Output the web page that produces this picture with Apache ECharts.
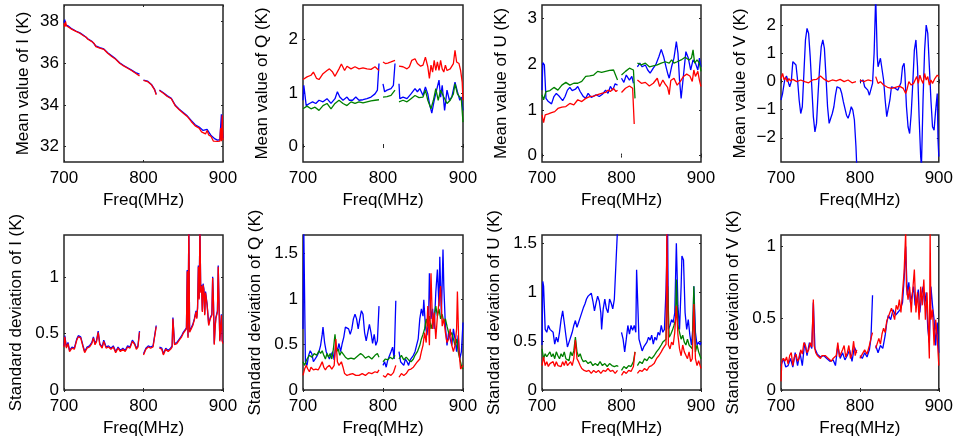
<!DOCTYPE html>
<html><head><meta charset="utf-8">
<script src="https://cdn.jsdelivr.net/npm/echarts/dist/echarts.min.js"></script>
<style>html,body{margin:0;padding:0;background:#fff}#c{width:956px;height:438px}</style>
</head><body><div id="c"></div>
<script>
// ---- tick labels ----
const freqTicks = [700, 800, 900];
const meanITicks = [32, 34, 36, 38];
const meanQTicks = [0, 1, 2];
const meanUTicks = [0, 1, 2, 3];
const meanVTicks = [-2, -1, 0, 1, 2];
const stdITicks = [0, 0.5, 1];
const stdQTicks = [0, 0.5, 1, 1.5];
const stdUTicks = [0, 0.5, 1, 1.5];
const stdVTicks = [0, 0.5, 1];

// ---- Mean I ----
const meanIBlue = [[700,37.95],[701,38.1],[702,37.85],[705,37.8],[710,37.65],[715,37.55],[720,37.46],[725,37.33],[730,37.18],[735,37.06],[740,36.83],[745,36.75],[750,36.69],[755,36.5],[760,36.36],[765,36.21],[770,36.02],[775,35.89],[780,35.78],[785,35.67],[790,35.55],[795,35.48],[797,null],[800,35.19],[805,35.14],[810,34.98],[814,34.74],[816,34.52],[818,null],[820,34.71],[825,34.58],[830,34.43],[835,34.31],[840,33.98],[845,33.79],[850,33.63],[855,33.47],[860,33.25],[865,33.04],[870,32.93],[875,32.77],[880,32.82],[885,32.52],[890,32.36],[893,32.3],[896,32.32],[898,33.55],[899,32.9],[900,32.4]];
const meanIRed = [[700,37.92],[701,37.75],[702,38.0],[703,37.8],[705,37.78],[710,37.63],[715,37.53],[720,37.44],[725,37.31],[728,37.25],[730,37.15],[735,37.04],[738,36.95],[740,36.8],[745,36.73],[750,36.67],[755,36.48],[760,36.32],[765,36.19],[770,36.0],[775,35.87],[780,35.76],[785,35.65],[790,35.52],[795,35.39],[797,null],[800,35.17],[805,35.12],[810,34.96],[814,34.72],[816,34.48],[818,null],[820,34.69],[825,34.56],[830,34.4],[835,34.29],[840,33.95],[845,33.76],[850,33.6],[855,33.44],[860,33.2],[865,32.99],[870,32.88],[873,32.7],[875,32.72],[878,32.6],[880,32.77],[882,32.55],[885,32.48],[888,32.25],[890,32.32],[893,32.24],[895,32.3],[896,32.25],[897,32.88],[898,32.25],[899,33.5],[900,32.3]];

// ---- Mean Q ----
const meanQBlue = [[700,0.86],[701,1.14],[702,1.02],[704,0.76],[708,0.80],[712,0.83],[716,0.80],[720,0.86],[725,0.83],[730,0.89],[735,0.80],[740,0.89],[743,1.02],[746,0.92],[750,0.86],[755,0.92],[758,0.86],[762,0.86],[766,0.92],[770,0.86],[775,0.87],[780,0.89],[785,0.92],[790,0.98],[793,1.05],[795,1.55],[797,null],[800,1.17],[802,1.02],[805,1.05],[810,1.08],[813,1.14],[815,1.55],[817,null],[820,1.17],[821,0.89],[825,0.92],[830,0.89],[835,0.98],[840,1.08],[843,1.02],[846,1.08],[850,0.95],[853,1.11],[856,0.98],[858,0.80],[861,0.62],[864,0.86],[867,1.05],[870,1.24],[872,0.92],[874,1.14],[877,0.67],[880,1.05],[883,0.86],[886,0.92],[890,1.20],[893,1.02],[896,0.86],[898,0.92],[900,0.67]];
const meanQGreen = [[700,0.70],[705,0.75],[710,0.70],[715,0.73],[720,0.67],[725,0.76],[730,0.80],[735,0.70],[740,0.80],[745,0.86],[750,0.80],[755,0.76],[760,0.83],[765,0.80],[770,0.83],[775,0.81],[780,0.83],[785,0.85],[790,0.86],[795,0.87],[797,null],[800,0.92],[805,0.93],[810,0.95],[815,1.05],[817,null],[820,0.83],[825,0.86],[830,0.83],[835,0.89],[840,0.95],[845,0.91],[850,0.92],[853,1.05],[856,0.86],[860,0.70],[863,0.86],[866,1.08],[869,0.86],[872,1.05],[876,0.92],[880,0.80],[884,0.86],[888,0.98],[890,1.17],[893,0.98],[896,0.92],[898,0.86],[900,0.45]];
const meanQRed = [[700,1.25],[705,1.30],[710,1.33],[713,1.39],[717,1.27],[720,1.25],[725,1.36],[730,1.42],[733,1.45],[737,1.39],[740,1.31],[745,1.45],[748,1.54],[752,1.42],[755,1.50],[760,1.45],[765,1.49],[770,1.45],[775,1.47],[780,1.45],[785,1.44],[790,1.49],[795,1.42],[797,null],[800,1.58],[803,1.55],[806,1.56],[810,1.58],[815,1.61],[817,null],[820,1.50],[825,1.49],[830,1.45],[833,1.49],[836,1.61],[840,1.64],[843,1.55],[847,1.50],[850,1.52],[853,1.67],[856,1.49],[858,1.27],[860,1.52],[862,1.39],[864,1.61],[866,1.42],[868,1.58],[870,1.42],[872,1.61],[874,1.45],[876,1.39],[878,1.52],[880,1.42],[884,1.45],[888,1.55],[890,1.80],[892,1.58],[895,1.55],[897,1.42],[899,1.20],[900,0.86]];

// ---- Mean U ----
const meanUBlue = [[700,1.43],[701,2.03],[703,1.98],[705,1.25],[708,1.18],[712,1.13],[715,1.29],[718,1.36],[722,1.29],[726,1.20],[729,1.29],[732,1.43],[735,1.49],[738,1.42],[742,1.45],[745,1.51],[748,1.40],[752,1.29],[755,1.25],[758,1.36],[762,1.27],[765,1.30],[768,1.33],[772,1.29],[776,1.34],[780,1.43],[783,1.36],[786,1.51],[789,1.43],[792,1.57],[795,1.54],[797,null],[800,1.69],[803,1.60],[806,1.76],[810,1.65],[813,1.73],[815,1.58],[817,null],[820,1.94],[823,2.02],[826,1.94],[830,1.98],[833,1.87],[836,1.80],[840,1.91],[843,1.98],[847,2.16],[850,2.32],[853,2.16],[856,1.94],[858,1.80],[860,1.69],[863,1.94],[866,2.13],[869,2.49],[871,2.24],[873,1.65],[875,1.25],[878,1.76],[881,2.27],[884,2.13],[887,1.87],[890,2.09],[893,2.02],[896,1.87],[898,2.13],[900,1.94]];
const meanUGreen = [[700,1.33],[702,1.22],[705,1.40],[710,1.42],[715,1.49],[720,1.43],[725,1.54],[730,1.60],[735,1.54],[740,1.58],[745,1.58],[750,1.62],[755,1.73],[760,1.74],[765,1.76],[770,1.84],[775,1.82],[780,1.84],[785,1.86],[790,1.87],[795,1.65],[797,null],[800,1.76],[805,1.84],[810,1.91],[815,1.87],[817,1.25],[818,null],[820,2.02],[825,1.98],[830,2.02],[835,1.94],[840,1.96],[845,1.98],[850,2.02],[855,2.05],[860,2.02],[863,2.09],[866,2.02],[870,2.05],[875,2.09],[880,2.15],[885,2.09],[888,2.13],[890,2.31],[892,2.02],[895,2.09],[898,2.02],[900,1.84]];
const meanURed = [[700,0.89],[702,0.72],[704,0.89],[708,0.91],[712,0.94],[716,0.96],[720,1.03],[725,1.06],[730,1.07],[735,1.14],[740,1.11],[745,1.22],[750,1.18],[755,1.25],[760,1.29],[765,1.30],[770,1.33],[775,1.36],[780,1.38],[783,1.43],[786,1.40],[790,1.47],[793,1.40],[795,1.43],[797,null],[800,1.38],[805,1.47],[810,1.52],[814,1.47],[816,0.69],[818,null],[820,1.65],[825,1.58],[830,1.60],[835,1.52],[840,1.58],[845,1.69],[848,1.51],[852,1.65],[855,1.56],[858,1.49],[860,1.33],[862,1.64],[866,1.69],[870,1.54],[874,1.62],[878,1.73],[882,1.78],[886,1.74],[889,1.62],[891,1.87],[893,1.73],[896,1.84],[898,1.65],[900,1.51]];

// ---- Mean V ----
const meanVBlue = [[700,-0.66],[702,-0.43],[705,0.11],[707,0.19],[709,-0.01],[711,-0.19],[713,-0.01],[715,0.70],[717,0.76],[719,0.58],[721,0.05],[723,-0.66],[725,-1.14],[727,-0.90],[729,0.28],[731,1.47],[733,1.88],[735,1.70],[737,0.88],[739,-0.19],[741,-1.25],[743,-1.79],[745,-1.49],[747,-0.43],[749,0.52],[751,1.23],[753,1.47],[755,1.17],[757,0.17],[759,-0.90],[761,-1.49],[763,-1.31],[765,-1.14],[767,-0.90],[769,-0.49],[771,-0.19],[773,-0.17],[775,-0.25],[777,-0.43],[779,-0.72],[781,-0.96],[783,-1.20],[785,-1.31],[787,-1.14],[789,-0.90],[791,-1.02],[793,-1.37],[795,-2.32],[796,-3.0],[797,null],[800,-0.01],[802,-0.07],[804,0.05],[806,-0.19],[808,-0.13],[810,-0.31],[812,-0.49],[814,-0.43],[816,-0.07],[818,1.0],[820,3.0],[822,0.9],[823,0.52],[826,0.82],[828,0.88],[830,0.05],[832,-0.66],[834,-1.25],[836,-1.19],[838,-0.66],[840,-0.19],[842,-0.13],[845,-0.25],[848,-0.31],[850,-0.37],[852,-0.05],[854,0.52],[856,0.64],[857,0.28],[859,-0.90],[861,-1.61],[863,-1.85],[865,-1.14],[867,-0.07],[869,1.11],[871,1.47],[873,0.52],[875,-1.25],[877,-2.67],[878,-3.0],[880,-0.66],[882,1.11],[884,2.0],[886,1.70],[888,0.52],[890,-0.66],[892,-1.61],[894,-1.73],[896,-1.02],[898,-0.43],[899,-2.09],[900,-2.67]];
const meanVRed = [[700,0.10],[702,0.28],[704,0.05],[706,0.14],[708,-0.01],[710,0.10],[712,0.02],[715,0.07],[720,-0.01],[725,0.05],[730,-0.01],[735,-0.05],[740,0.05],[745,0.07],[750,0.19],[755,0.07],[760,-0.01],[765,0.05],[770,0.02],[775,0.07],[780,-0.01],[785,0.05],[790,-0.05],[795,-0.01],[797,null],[800,0.05],[805,-0.01],[810,0.05],[815,0.02],[817,null],[820,0.17],[823,-0.07],[826,-0.01],[830,-0.13],[835,-0.21],[840,-0.25],[845,-0.21],[850,-0.17],[855,-0.25],[858,-0.43],[860,-0.25],[862,-0.01],[865,-0.13],[868,-0.07],[870,0.05],[872,0.17],[874,-0.07],[876,0.22],[878,0.05],[880,-0.07],[882,0.28],[884,0.05],[886,0.17],[888,-0.13],[890,0.05],[892,-0.07],[895,0.10],[898,0.22],[900,0.17]];

// ---- Std I ----
const stdIBlue = [[700,0.39],[701,0.48],[703,0.38],[705,0.42],[707,0.35],[710,0.38],[713,0.37],[716,0.45],[718,0.48],[721,0.47],[724,0.39],[726,0.34],[729,0.38],[732,0.39],[735,0.42],[737,0.47],[739,0.41],[741,0.44],[743,0.52],[745,0.41],[748,0.38],[750,0.44],[753,0.38],[756,0.39],[759,0.37],[762,0.39],[765,0.34],[768,0.38],[771,0.35],[774,0.37],[777,0.35],[780,0.39],[783,0.38],[786,0.44],[789,0.41],[791,0.37],[793,0.39],[795,0.52],[797,null],[800,0.32],[803,0.37],[806,0.39],[809,0.38],[812,0.39],[814,0.38],[816,0.57],[818,null],[820,0.38],[823,0.37],[825,0.32],[828,0.37],[831,0.35],[834,0.37],[836,0.39],[837,0.64],[839,0.41],[842,0.42],[845,0.45],[848,0.48],[850,0.51],[852,0.52],[854,0.55],[855,1.06],[856,0.47],[857,1.45],[858,0.52],[860,0.55],[862,0.58],[864,0.63],[866,0.70],[867,0.64],[868,0.73],[869,1.10],[870,0.81],[871,1.45],[872,0.87],[873,0.93],[874,0.70],[875,0.94],[876,0.89],[877,0.67],[878,0.87],[880,0.76],[882,0.58],[884,0.64],[886,0.67],[887,1.0],[888,0.78],[889,0.41],[890,0.55],[891,0.64],[893,0.70],[894,1.10],[896,0.44],[898,0.67],[899,0.44],[900,0.42]];
const stdIRed = [[700,0.38],[701,0.47],[703,0.37],[705,0.41],[707,0.34],[710,0.37],[713,0.36],[716,0.44],[718,0.47],[721,0.46],[724,0.38],[726,0.33],[729,0.37],[732,0.38],[735,0.41],[737,0.46],[739,0.40],[741,0.43],[743,0.51],[745,0.40],[748,0.37],[750,0.43],[753,0.37],[756,0.38],[759,0.36],[762,0.38],[765,0.33],[768,0.37],[771,0.34],[774,0.36],[777,0.34],[780,0.38],[783,0.37],[786,0.43],[789,0.40],[791,0.36],[793,0.38],[795,0.51],[797,null],[800,0.31],[803,0.36],[806,0.38],[809,0.37],[812,0.38],[814,0.37],[816,0.56],[818,null],[820,0.37],[823,0.36],[825,0.31],[828,0.36],[831,0.34],[834,0.36],[836,0.38],[837,0.63],[839,0.40],[842,0.41],[845,0.44],[848,0.47],[850,0.50],[852,0.51],[854,0.54],[855,1.05],[856,0.46],[857,1.45],[858,0.51],[860,0.54],[862,0.57],[864,0.62],[866,0.69],[867,0.63],[868,0.72],[869,1.09],[870,0.80],[871,1.45],[872,0.86],[873,0.92],[874,0.69],[875,0.93],[876,0.88],[877,0.66],[878,0.86],[880,0.75],[882,0.57],[884,0.63],[886,0.66],[887,0.99],[888,0.77],[889,0.40],[890,0.54],[891,0.63],[893,0.69],[894,1.09],[896,0.43],[898,0.66],[899,0.43],[900,0.41]];

// ---- Std Q ----
const stdQBlue = [[700,0.67],[701,1.75],[702,1.75],[703,0.31],[705,0.27],[707,0.38],[709,0.43],[711,0.40],[713,0.31],[715,0.29],[718,0.38],[720,0.42],[722,0.49],[724,0.61],[725,0.69],[727,0.52],[729,0.42],[731,0.43],[733,0.34],[735,0.38],[737,0.42],[739,0.33],[741,0.49],[743,0.43],[745,0.51],[747,0.42],[749,0.51],[751,0.58],[753,0.69],[755,0.70],[757,0.67],[759,0.61],[761,0.67],[763,0.78],[765,0.83],[767,0.78],[769,0.67],[771,0.78],[773,0.87],[775,0.83],[777,0.63],[779,0.54],[781,0.63],[783,0.72],[785,0.63],[787,0.51],[789,0.61],[791,0.49],[793,0.54],[795,0.92],[797,null],[800,0.27],[802,0.31],[804,0.25],[806,0.33],[808,0.31],[810,0.42],[812,0.47],[814,0.34],[816,0.98],[818,null],[820,0.42],[822,0.31],[824,0.33],[826,0.27],[828,0.34],[830,0.31],[832,0.27],[834,0.33],[836,0.34],[838,0.38],[840,0.42],[842,0.43],[844,0.56],[846,0.78],[848,0.89],[850,0.81],[851,0.99],[853,0.70],[855,0.60],[857,0.78],[858,1.28],[860,0.78],[862,0.89],[864,0.67],[866,1.07],[868,1.32],[870,0.92],[871,1.46],[873,0.81],[875,1.54],[876,1.14],[878,0.70],[880,0.49],[882,0.63],[884,0.56],[886,0.49],[888,0.67],[890,0.56],[892,0.42],[894,0.60],[896,0.34],[898,0.42],[900,0.74]];
const stdQGreen = [[700,0.31],[702,0.27],[705,0.34],[708,0.38],[711,0.36],[714,0.40],[717,0.38],[720,0.43],[722,0.40],[724,0.43],[726,0.38],[728,0.34],[730,0.40],[732,0.36],[734,0.40],[736,0.34],[738,0.45],[740,0.61],[742,0.42],[744,0.45],[746,0.38],[748,0.42],[750,0.40],[753,0.36],[756,0.34],[760,0.35],[764,0.34],[768,0.37],[772,0.40],[775,0.38],[778,0.35],[782,0.37],[786,0.34],[790,0.38],[793,0.40],[795,0.36],[797,null],[800,0.31],[803,0.34],[806,0.33],[809,0.36],[812,0.34],[815,0.38],[817,null],[820,0.34],[823,0.38],[826,0.33],[829,0.36],[832,0.33],[835,0.31],[838,0.34],[840,0.38],[843,0.42],[846,0.49],[848,0.56],[850,0.61],[852,0.67],[854,0.78],[856,0.70],[858,0.81],[860,0.67],[862,0.74],[864,0.81],[866,0.92],[868,0.81],[870,0.89],[872,0.78],[874,0.83],[876,0.74],[878,0.78],[880,0.70],[882,0.63],[884,0.60],[886,0.63],[888,0.56],[890,0.49],[892,0.56],[894,0.42],[896,0.34],[898,0.27],[900,0.23]];
const stdQRed = [[700,0.16],[702,0.23],[704,0.27],[706,0.23],[708,0.20],[710,0.25],[713,0.22],[716,0.23],[719,0.22],[722,0.27],[724,0.31],[726,0.25],[728,0.22],[730,0.25],[733,0.27],[736,0.23],[739,0.27],[741,0.56],[743,0.31],[745,0.27],[748,0.31],[750,0.25],[752,0.18],[755,0.16],[758,0.17],[762,0.18],[766,0.16],[770,0.16],[774,0.18],[778,0.16],[782,0.19],[786,0.18],[790,0.20],[793,0.19],[795,0.22],[797,null],[800,0.16],[803,0.14],[806,0.18],[810,0.16],[813,0.19],[816,0.27],[818,null],[820,0.14],[823,0.18],[826,0.16],[829,0.18],[832,0.22],[835,0.23],[838,0.25],[840,0.27],[843,0.31],[846,0.34],[848,0.42],[850,0.49],[852,0.63],[854,0.52],[856,0.92],[858,0.49],[860,1.28],[862,0.67],[864,0.85],[866,0.56],[868,0.81],[870,0.96],[872,1.14],[874,0.70],[876,0.78],[878,0.63],[880,0.52],[882,0.56],[884,0.67],[886,0.49],[888,0.42],[890,0.49],[892,0.67],[893,1.08],[895,0.42],[897,0.23],[900,0.27]];

// ---- Std U ----
const stdUBlue = [[700,0.46],[701,1.11],[702,1.06],[704,0.62],[706,0.59],[708,0.66],[710,0.62],[712,0.64],[714,0.59],[716,0.47],[718,0.54],[720,0.49],[722,0.59],[724,0.72],[726,0.81],[728,0.69],[730,0.56],[732,0.44],[734,0.49],[736,0.54],[738,0.59],[740,0.66],[742,0.71],[744,0.64],[746,0.69],[748,0.74],[750,0.76],[752,0.84],[754,0.88],[756,0.93],[758,0.96],[760,0.98],[762,0.99],[764,0.91],[766,0.81],[768,0.89],[770,0.96],[772,0.91],[774,0.79],[775,0.62],[777,0.83],[779,0.93],[781,0.83],[783,0.79],[785,0.93],[787,0.89],[789,0.83],[791,0.93],[793,0.93],[795,1.65],[797,null],[800,0.59],[802,0.52],[804,0.39],[806,0.52],[808,0.66],[810,0.57],[812,0.66],[814,0.61],[816,0.66],[818,0.59],[819,1.23],[820,1.23],[822,0.52],[824,0.46],[826,0.40],[828,0.44],[830,0.46],[832,0.49],[834,0.54],[836,0.51],[838,0.56],[840,0.47],[842,0.54],[844,0.51],[846,0.59],[848,0.56],[850,0.66],[852,0.59],[854,0.62],[856,1.03],[858,1.65],[859,0.62],[861,0.66],[863,0.72],[865,0.69],[867,0.79],[869,1.50],[871,0.86],[873,0.62],[875,1.06],[876,1.37],[878,1.33],[880,0.79],[882,0.62],[884,0.72],[886,0.56],[888,0.46],[890,0.66],[891,1.06],[893,0.59],[895,0.46],[897,0.49],[899,0.46],[900,0.49]];
const stdUGreen = [[700,0.42],[702,0.32],[704,0.37],[706,0.34],[708,0.35],[710,0.39],[712,0.34],[714,0.37],[716,0.32],[718,0.39],[720,0.35],[722,0.32],[724,0.37],[726,0.34],[728,0.39],[730,0.32],[732,0.34],[734,0.30],[736,0.39],[738,0.35],[740,0.40],[742,0.54],[744,0.39],[746,0.34],[748,0.37],[750,0.32],[752,0.29],[755,0.30],[758,0.27],[761,0.29],[764,0.25],[767,0.27],[770,0.25],[773,0.29],[776,0.25],[779,0.27],[782,0.24],[785,0.27],[788,0.25],[791,0.24],[794,0.25],[796,0.24],[798,null],[800,0.20],[803,0.24],[806,0.22],[809,0.25],[812,0.24],[815,0.29],[817,0.39],[818,null],[820,0.25],[823,0.29],[826,0.27],[829,0.32],[832,0.30],[835,0.34],[838,0.32],[841,0.35],[844,0.39],[847,0.42],[850,0.46],[852,0.49],[854,0.51],[856,0.52],[858,1.06],[860,0.54],[862,0.57],[864,0.61],[866,0.66],[868,0.72],[869,1.13],[871,0.66],[873,0.59],[875,0.52],[877,0.56],[879,0.49],[881,0.46],[883,0.52],[885,0.46],[887,0.47],[889,0.42],[891,1.06],[893,0.39],[895,0.46],[897,0.39],[900,0.32]];
const stdURed = [[700,0.25],[702,0.34],[704,0.25],[706,0.29],[708,0.24],[710,0.27],[712,0.25],[714,0.29],[716,0.24],[718,0.29],[720,0.25],[722,0.27],[724,0.24],[726,0.29],[728,0.25],[730,0.30],[732,0.25],[734,0.24],[736,0.29],[738,0.25],[740,0.32],[742,0.51],[744,0.32],[746,0.29],[748,0.25],[750,0.22],[753,0.20],[756,0.19],[759,0.20],[762,0.17],[765,0.20],[768,0.18],[771,0.20],[774,0.17],[777,0.20],[780,0.19],[783,0.22],[786,0.19],[789,0.20],[792,0.17],[795,0.20],[797,null],[800,0.15],[803,0.19],[806,0.17],[809,0.20],[812,0.19],[815,0.24],[817,0.39],[818,null],[820,0.17],[823,0.20],[826,0.19],[829,0.22],[832,0.20],[835,0.24],[838,0.25],[841,0.27],[844,0.32],[847,0.35],[850,0.39],[852,0.42],[854,0.44],[856,0.47],[857,1.65],[858,1.65],[859,0.46],[861,0.42],[863,0.49],[865,0.46],[867,0.59],[869,0.86],[871,0.56],[873,0.42],[875,0.35],[877,0.46],[879,0.39],[881,0.40],[883,0.32],[885,0.39],[887,0.29],[889,0.32],[891,0.88],[893,0.32],[895,0.25],[897,0.30],[900,0.22]];

// ---- Std V ----
const stdVBlue = [[700,0.17],[703,0.22],[706,0.16],[709,0.17],[712,0.22],[715,0.16],[718,0.26],[721,0.17],[724,0.26],[727,0.17],[730,0.33],[733,0.24],[736,0.33],[739,0.29],[741,0.61],[743,0.29],[746,0.25],[750,0.23],[754,0.24],[758,0.22],[762,0.20],[766,0.21],[769,0.17],[772,0.31],[775,0.22],[778,0.26],[781,0.21],[784,0.24],[787,0.28],[790,0.20],[793,0.30],[796,0.26],[798,null],[800,0.24],[803,0.22],[806,0.26],[809,0.23],[812,0.28],[814,0.36],[816,0.66],[818,null],[820,0.31],[823,0.26],[826,0.31],[829,0.29],[832,0.38],[834,0.47],[836,0.52],[839,0.49],[842,0.56],[845,0.52],[848,0.54],[851,0.56],[854,0.61],[856,0.77],[858,1.0],[860,0.66],[862,0.75],[864,0.61],[866,0.66],[868,0.72],[870,0.59],[872,0.63],[874,0.70],[876,0.54],[878,0.66],[880,0.72],[882,0.59],[884,0.68],[886,0.43],[888,0.33],[890,0.72],[892,0.59],[894,0.49],[896,0.31],[898,0.47],[900,0.26]];
const stdVRed = [[700,0.06],[701,0.20],[703,0.22],[705,0.20],[707,0.23],[709,0.18],[711,0.24],[713,0.26],[715,0.17],[717,0.23],[719,0.25],[721,0.20],[723,0.22],[725,0.28],[727,0.25],[729,0.33],[731,0.31],[733,0.26],[735,0.28],[737,0.33],[739,0.30],[741,0.63],[742,0.31],[744,0.26],[746,0.24],[748,0.25],[750,0.22],[752,0.24],[754,0.25],[756,0.24],[758,0.23],[760,0.22],[762,0.21],[764,0.20],[766,0.22],[768,0.21],[770,0.24],[772,0.33],[774,0.23],[776,0.24],[778,0.28],[780,0.31],[782,0.23],[784,0.26],[786,0.31],[788,0.22],[790,0.25],[792,0.34],[794,0.24],[796,0.28],[798,null],[800,0.22],[803,0.25],[806,0.28],[809,0.25],[812,0.31],[814,0.36],[816,0.40],[818,null],[820,0.29],[822,0.28],[824,0.36],[826,0.32],[828,0.39],[830,0.43],[832,0.40],[834,0.48],[836,0.49],[838,0.54],[840,0.57],[842,0.53],[844,0.49],[846,0.59],[848,0.56],[850,0.63],[852,0.54],[854,0.68],[856,0.82],[858,1.10],[859,0.72],[861,0.63],[863,0.72],[865,0.54],[867,0.70],[869,0.84],[871,0.54],[873,0.68],[875,0.49],[877,0.72],[879,0.59],[881,0.77],[883,0.49],[885,0.68],[887,0.38],[888,0.22],[889,1.10],[890,0.49],[892,0.56],[894,0.31],[896,0.49],[898,0.36],[900,0.17]];

// ---- layout & assembly ----
const BLUE = '#0000ff', GREEN = '#008000', RED = '#ff0000';
const FONT = '"Liberation Sans", Arial, Helvetica, sans-serif';
const panels = [
  {l:64, t:5, w:159, h:157, min:31.25, max:38.8, ticks:meanITicks, name:'Mean value of I (K)', gap:32, s:[meanIBlue,null,meanIRed]},
  {l:303, t:5, w:160, h:157, min:-0.3, max:2.65, ticks:meanQTicks, name:'Mean value of Q (K)', gap:32, s:[meanQBlue,meanQGreen,meanQRed]},
  {l:542, t:5, w:159, h:157, min:-0.14, max:3.29, ticks:meanUTicks, name:'Mean value of U (K)', gap:32, s:[meanUBlue,meanUGreen,meanURed]},
  {l:781, t:5, w:158, h:157, min:-2.86, max:2.71, ticks:meanVTicks, name:'Mean value of V (K)', gap:32, s:[meanVBlue,null,meanVRed]},
  {l:64, t:235, w:159, h:156, min:0, max:1.37, ticks:stdITicks, name:'Standard deviation of I (K)', gap:39, s:[stdIBlue,null,stdIRed]},
  {l:303, t:235, w:160, h:156, min:0, max:1.7, ticks:stdQTicks, name:'Standard deviation of Q (K)', gap:39, s:[stdQBlue,stdQGreen,stdQRed]},
  {l:542, t:235, w:159, h:156, min:0, max:1.585, ticks:stdUTicks, name:'Standard deviation of U (K)', gap:39, s:[stdUBlue,stdUGreen,stdURed]},
  {l:781, t:235, w:158, h:156, min:0, max:1.08, ticks:stdVTicks, name:'Standard deviation of V (K)', gap:39, s:[stdVBlue,null,stdVRed]}
];
const colors = [BLUE, GREEN, RED];
const fmt = v => String(v).replace('-', '\u2212');
const grid = [], xAxis = [], yAxis = [], series = [];
panels.forEach((p, i) => {
  grid.push({left:p.l, top:p.t, width:p.w, height:p.h, show:true, borderColor:'#262626', borderWidth:1.5, containLabel:false});
  const tickX = {show:true, inside:true, length:2, lineStyle:{color:'#262626'}, customValues:freqTicks};
  xAxis.push({gridIndex:i, type:'value', min:700, max:900, position:'bottom',
    name:'Freq(MHz)', nameLocation:'middle', nameGap:30, nameTextStyle:{fontSize:17, color:'#000', fontFamily:FONT},
    axisLine:{show:false}, splitLine:{show:false}, axisTick:tickX,
    axisLabel:{customValues:freqTicks, fontSize:17, color:'#000', fontFamily:FONT, margin:8}});
  xAxis.push({gridIndex:i, type:'value', min:700, max:900, position:'top',
    axisLine:{show:false}, splitLine:{show:false}, axisTick:tickX, axisLabel:{show:false}});
  const tickY = {show:true, inside:true, length:2, lineStyle:{color:'#262626'}, customValues:p.ticks};
  yAxis.push({gridIndex:i, type:'value', min:p.min, max:p.max, position:'left',
    name:p.name, nameLocation:'middle', nameGap:p.gap, nameRotate:90, nameTextStyle:{fontSize:17, color:'#000', fontFamily:FONT},
    axisLine:{show:false}, splitLine:{show:false}, axisTick:tickY,
    axisLabel:{customValues:p.ticks, formatter:fmt, fontSize:17, color:'#000', fontFamily:FONT, margin:5}});
  yAxis.push({gridIndex:i, type:'value', min:p.min, max:p.max, position:'right',
    axisLine:{show:false}, splitLine:{show:false}, axisTick:tickY, axisLabel:{show:false}});
  p.s.forEach((d, k) => {
    if (!d) return;
    series.push({type:'line', xAxisIndex:2*i, yAxisIndex:2*i, data:d, showSymbol:false, symbol:'none',
      connectNulls:false, clip:true, lineStyle:{color:colors[k], width:1.3}, itemStyle:{color:colors[k]}, z:2+k});
  });
});
const chart = echarts.init(document.getElementById('c'), null, {renderer:'canvas'});
chart.setOption({animation:false, backgroundColor:'#fff', grid, xAxis, yAxis, series});
</script></body></html>
